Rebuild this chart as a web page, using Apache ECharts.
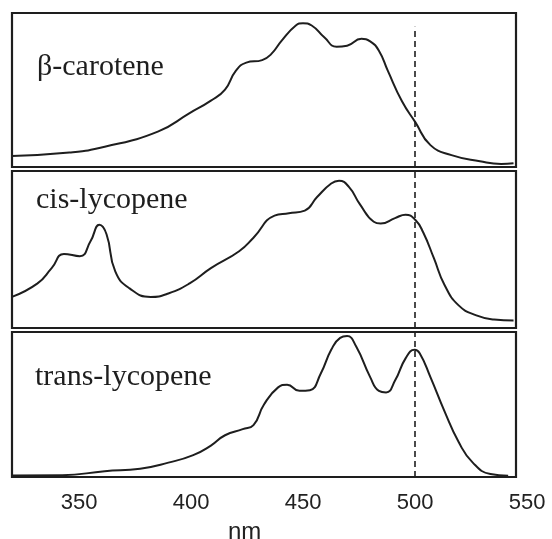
<!DOCTYPE html>
<html>
<head>
<meta charset="utf-8">
<script src="https://cdn.jsdelivr.net/npm/echarts@6/dist/echarts.min.js"></script>
<style>
html,body{margin:0;padding:0;background:#fff;}
#chart{width:552px;height:539px;}
</style>
</head>
<body>
<div id="chart"></div>
<script>
// ---- data (wavelength in nm, relative absorbance 0..1 of each panel) ----
const xTicks = [350, 400, 450, 500, 550];
const panelNames = ['β-carotene', 'cis-lycopene', 'trans-lycopene'];

const betaNm  = [320, 345.6, 361.4, 385.1, 399.3, 408.8, 415.1, 419.9, 424.6, 431.7, 435.7, 440.4, 446.7, 449.9, 453.8, 459.4, 464.9, 469.6, 476, 479.9, 483.8, 487.8, 494.1, 500.1, 506.8, 516.2, 528.9, 538.4, 543.9];
const betaAbs = [0.072, 0.094, 0.131, 0.23, 0.35, 0.431, 0.503, 0.624, 0.678, 0.694, 0.733, 0.821, 0.919, 0.934, 0.919, 0.842, 0.781, 0.788, 0.832, 0.816, 0.755, 0.624, 0.427, 0.29, 0.142, 0.077, 0.037, 0.02, 0.025];

const cisNm  = [320, 331.4, 337.7, 343.2, 350.3, 355.1, 359, 362.2, 366.1, 372.5, 381.9, 389.8, 399.3, 408.8, 421.4, 427.8, 437.2, 443.6, 450.7, 456.2, 462.5, 466, 470.4, 475.2, 481.5, 484.6, 491, 495.7, 500.1, 503.6, 508.3, 513.1, 519.4, 527.3, 535.2, 543.9];
const cisAbs = [0.198, 0.284, 0.381, 0.472, 0.457, 0.554, 0.657, 0.597, 0.36, 0.252, 0.198, 0.22, 0.284, 0.381, 0.489, 0.575, 0.716, 0.731, 0.748, 0.834, 0.92, 0.9375, 0.899, 0.791, 0.677, 0.666, 0.70, 0.722, 0.6875, 0.608, 0.446, 0.274, 0.144, 0.08, 0.054, 0.047];

const transNm  = [320, 342.4, 361.4, 377.2, 389.8, 400.9, 408.8, 415.1, 423, 427.8, 432.5, 438.8, 442.8, 448.3, 453, 457.8, 462.5, 466.5, 469.6, 473.6, 479.9, 483.8, 487, 491, 495.7, 499.7, 502, 506.8, 513.1, 519.4, 525.7, 533.6, 541.5];
const transAbs = [0.01, 0.012, 0.04, 0.057, 0.099, 0.151, 0.217, 0.288, 0.33, 0.358, 0.5, 0.618, 0.637, 0.594, 0.599, 0.712, 0.877, 0.96, 0.972, 0.901, 0.689, 0.594, 0.583, 0.665, 0.818, 0.877, 0.854, 0.689, 0.453, 0.241, 0.099, 0.02, 0.008];

const frameEnd = 545;   // right edge of the plotted range
const markerNm = 500;   // dashed reference line

// ---- chart ----
const zip = (xs, ys) => xs.map((x, i) => [x, ys[i]]);
const grids = [
  {left: 12, right: 24.8, top: 13, height: 154, outerBoundsMode: 'none', containLabel: false},
  {left: 12, right: 24.8, top: 171, height: 157, outerBoundsMode: 'none', containLabel: false},
  {left: 12, right: 24.8, top: 332, height: 145, outerBoundsMode: 'none', containLabel: false}
];
const labelTops = [52, 185, 362];
const labelLefts = [37, 36, 35];
const seriesData = [zip(betaNm, betaAbs), zip(cisNm, cisAbs), zip(transNm, transAbs)];

const xAxes = grids.map((g, i) => ({
  type: 'value', gridIndex: i, min: 320, max: 550,
  axisLine: {show: false}, axisTick: {show: false}, splitLine: {show: false},
  axisLabel: i === 2 ? {
    show: true, customValues: xTicks, margin: 15,
    fontSize: 22, fontFamily: 'Liberation Sans, Arial, sans-serif', color: '#222'
  } : {show: false},
  name: i === 2 ? 'nm' : '',
  nameLocation: 'middle', nameGap: 43,
  nameTextStyle: {fontSize: 24, fontFamily: 'Liberation Sans, Arial, sans-serif', color: '#222', padding: [0, 50, 0, 0]}
}));
const yAxes = grids.map((g, i) => ({
  type: 'value', gridIndex: i, min: 0, max: 1, show: false
}));

const series = seriesData.map((d, i) => ({
  type: 'line', xAxisIndex: i, yAxisIndex: i, data: d,
  smooth: 0.5, showSymbol: false, silent: true,
  lineStyle: {color: '#1e1e1e', width: 2},
  markArea: {
    silent: true,
    itemStyle: {color: 'rgba(0,0,0,0)', borderColor: '#1e1e1e', borderWidth: 2.2},
    data: [[{coord: [320, 0]}, {coord: [frameEnd, 1]}]]
  },
  markLine: {
    silent: true, symbol: 'none', label: {show: false},
    lineStyle: {color: '#1e1e1e', type: [6, 4], width: 1.6},
    data: [[{coord: [markerNm, 0]}, {coord: [markerNm, i === 0 ? 0.91 : 1]}]]
  }
}));

const titles = panelNames.map((n, i) => ({
  text: n, left: labelLefts[i], top: labelTops[i], padding: 0,
  textStyle: {fontFamily: 'Liberation Serif, Times New Roman, serif', fontSize: 30, fontWeight: 'normal', color: '#1e1e1e'}
}));

const chart = echarts.init(document.getElementById('chart'), null, {renderer: 'canvas'});
chart.setOption({
  animation: false,
  backgroundColor: '#fff',
  title: titles,
  grid: grids,
  xAxis: xAxes,
  yAxis: yAxes,
  series: series
});
</script>
</body>
</html>
